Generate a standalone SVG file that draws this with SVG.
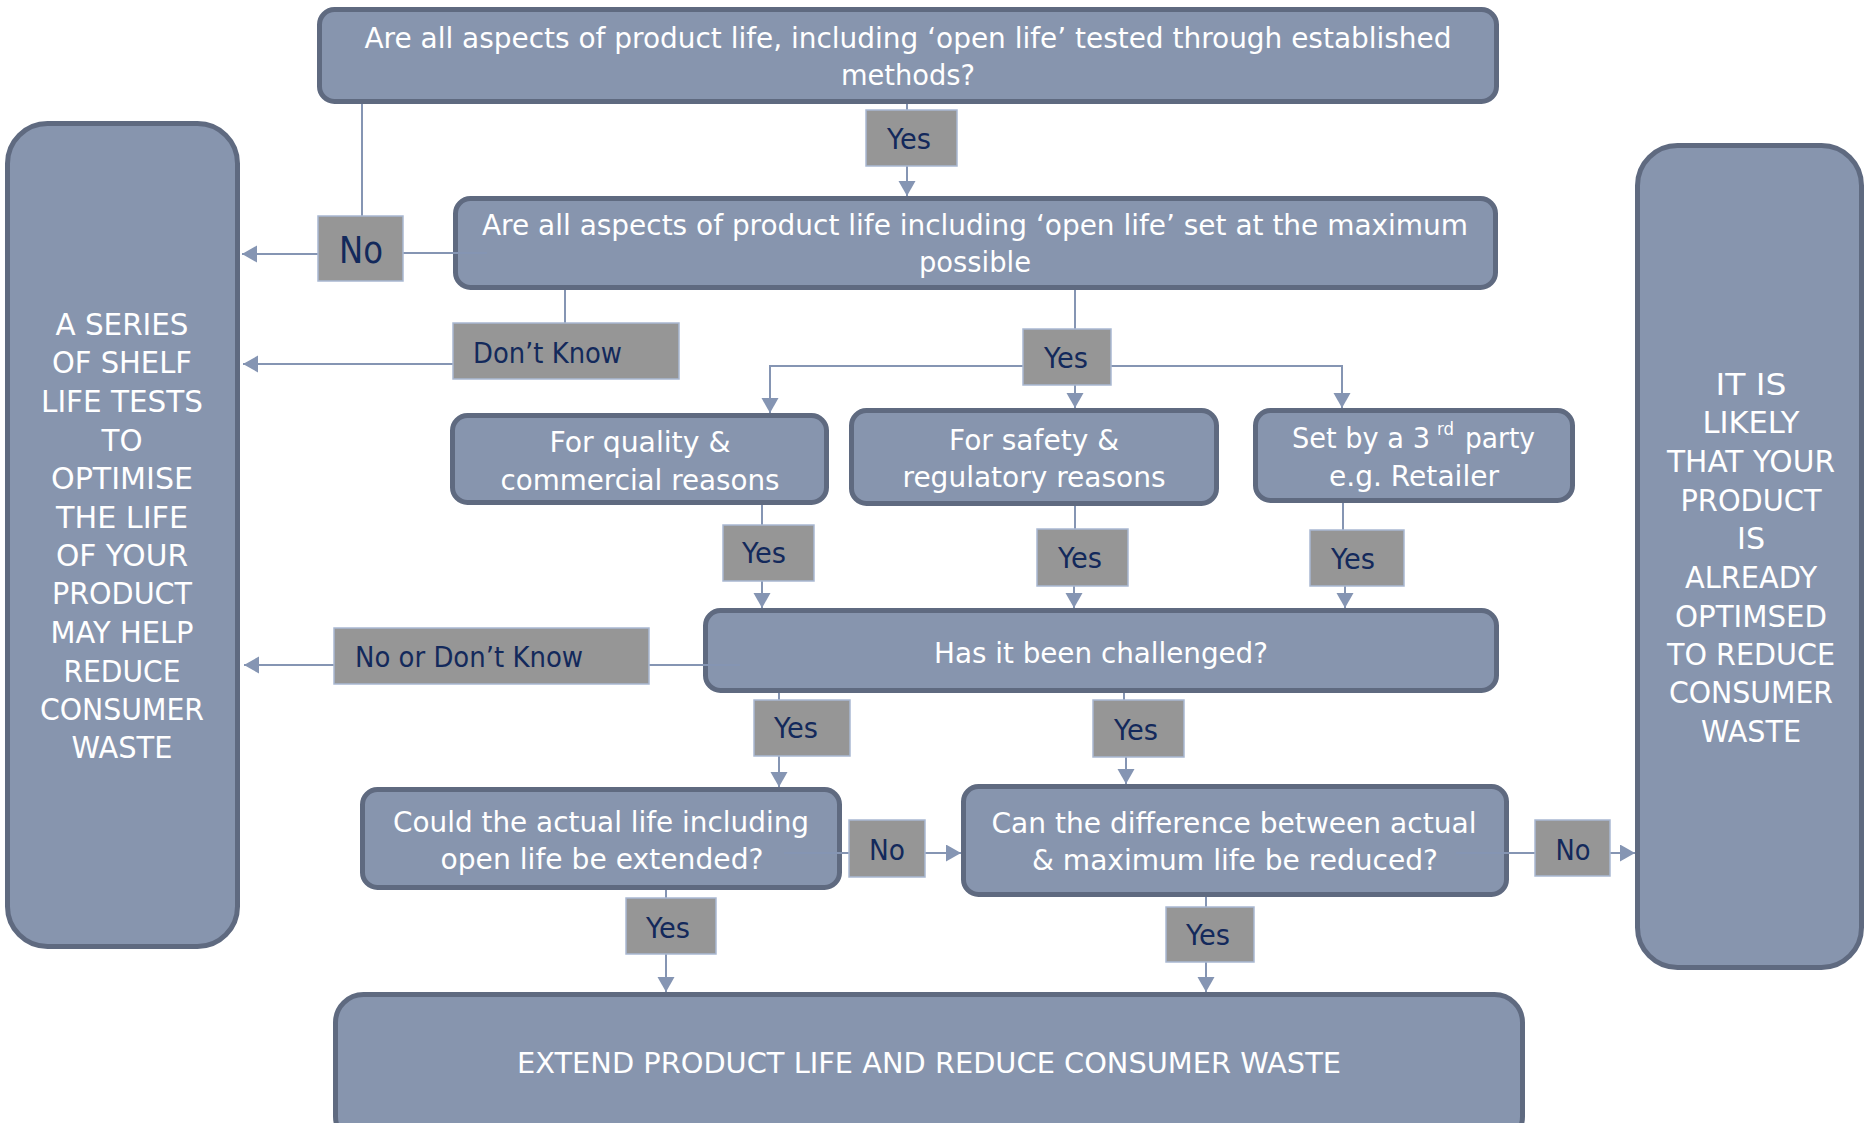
<svg xmlns="http://www.w3.org/2000/svg" width="1864" height="1123" viewBox="0 0 1864 1123">
<style>
.box{fill:#8795AE;stroke:#5F6A80;stroke-width:5}
.lbl{fill:#969696;stroke:#A9B8D2;stroke-width:1.5}
.bt{font-family:"DejaVu Sans",sans-serif;font-size:29px;fill:#FFFFFF;text-anchor:middle}
.btl{font-family:"DejaVu Sans",sans-serif;font-size:29px;fill:#FFFFFF}
.sup{font-family:"DejaVu Sans",sans-serif;font-size:17px;fill:#FFFFFF}
.st{font-family:"DejaVu Sans",sans-serif;font-size:31px;fill:#FFFFFF;text-anchor:middle}
.lt{font-family:"DejaVu Sans",sans-serif;font-size:29px;fill:#13295B;text-anchor:middle}
.ltb{font-family:"DejaVu Sans",sans-serif;font-size:38px;fill:#13295B;text-anchor:middle}
.ltl{font-family:"DejaVu Sans",sans-serif;font-size:29px;fill:#13295B}
.c{fill:none;stroke:#8595B3;stroke-width:2}
.a{marker-end:url(#ah)}
</style>
<defs>
<marker id="ah" markerWidth="16" markerHeight="18" refX="15" refY="8.5" orient="auto" markerUnits="userSpaceOnUse"><path d="M0,0 L15,8.5 L0,17 z" fill="#8595B3"/></marker>
</defs>
<rect width="1864" height="1123" fill="#FFFFFF"/>

<g id="q1"><rect class="box" x="319.5" y="9.5" width="1177" height="92" rx="15"/>
<text class="bt" x="908" y="48" textLength="1087" lengthAdjust="spacingAndGlyphs">Are all aspects of product life, including ‘open life’ tested through established</text>
<text class="bt" x="908" y="85" textLength="134" lengthAdjust="spacingAndGlyphs">methods?</text></g>

<g id="q2"><rect class="box" x="455.5" y="198.5" width="1040" height="89" rx="15"/>
<text class="bt" x="975" y="235" textLength="986" lengthAdjust="spacingAndGlyphs">Are all aspects of product life including ‘open life’ set at the maximum</text>
<text class="bt" x="975" y="272" textLength="112" lengthAdjust="spacingAndGlyphs">possible</text></g>

<g id="left"><rect class="box" x="7.5" y="123.5" width="230" height="823" rx="40"/>
<text class="st" x="122" y="335" textLength="133" lengthAdjust="spacingAndGlyphs">A SERIES</text>
<text class="st" x="122" y="373" textLength="140" lengthAdjust="spacingAndGlyphs">OF SHELF</text>
<text class="st" x="122" y="412" textLength="162" lengthAdjust="spacingAndGlyphs">LIFE TESTS</text>
<text class="st" x="122" y="451" textLength="41" lengthAdjust="spacingAndGlyphs">TO</text>
<text class="st" x="122" y="489" textLength="142" lengthAdjust="spacingAndGlyphs">OPTIMISE</text>
<text class="st" x="122" y="528" textLength="132" lengthAdjust="spacingAndGlyphs">THE LIFE</text>
<text class="st" x="122" y="566" textLength="132" lengthAdjust="spacingAndGlyphs">OF YOUR</text>
<text class="st" x="122" y="604" textLength="140" lengthAdjust="spacingAndGlyphs">PRODUCT</text>
<text class="st" x="122" y="643" textLength="143" lengthAdjust="spacingAndGlyphs">MAY HELP</text>
<text class="st" x="122" y="682" textLength="117" lengthAdjust="spacingAndGlyphs">REDUCE</text>
<text class="st" x="122" y="720" textLength="164" lengthAdjust="spacingAndGlyphs">CONSUMER</text>
<text class="st" x="122" y="758" textLength="101" lengthAdjust="spacingAndGlyphs">WASTE</text></g>

<g id="right"><rect class="box" x="1637.5" y="145.5" width="224" height="822" rx="40"/>
<text class="st" x="1751" y="395" textLength="71" lengthAdjust="spacingAndGlyphs">IT IS</text>
<text class="st" x="1751" y="433" textLength="97" lengthAdjust="spacingAndGlyphs">LIKELY</text>
<text class="st" x="1751" y="472" textLength="168" lengthAdjust="spacingAndGlyphs">THAT YOUR</text>
<text class="st" x="1751" y="511" textLength="141" lengthAdjust="spacingAndGlyphs">PRODUCT</text>
<text class="st" x="1751" y="549" textLength="28" lengthAdjust="spacingAndGlyphs">IS</text>
<text class="st" x="1751" y="588" textLength="132" lengthAdjust="spacingAndGlyphs">ALREADY</text>
<text class="st" x="1751" y="627" textLength="152" lengthAdjust="spacingAndGlyphs">OPTIMSED</text>
<text class="st" x="1751" y="665" textLength="168" lengthAdjust="spacingAndGlyphs">TO REDUCE</text>
<text class="st" x="1751" y="703" textLength="164" lengthAdjust="spacingAndGlyphs">CONSUMER</text>
<text class="st" x="1751" y="742" textLength="100" lengthAdjust="spacingAndGlyphs">WASTE</text></g>

<g id="quality"><rect class="box" x="452.5" y="415.5" width="374" height="87" rx="15"/>
<text class="bt" x="640" y="452" textLength="181" lengthAdjust="spacingAndGlyphs">For quality &amp;</text>
<text class="bt" x="640" y="490" textLength="279" lengthAdjust="spacingAndGlyphs">commercial reasons</text></g>

<g id="safety"><rect class="box" x="851.5" y="410.5" width="365" height="93" rx="15"/>
<text class="bt" x="1034" y="450" textLength="170" lengthAdjust="spacingAndGlyphs">For safety &amp;</text>
<text class="bt" x="1034" y="487" textLength="263" lengthAdjust="spacingAndGlyphs">regulatory reasons</text></g>

<g id="thirdparty"><rect class="box" x="1255.5" y="410.5" width="317" height="90" rx="15"/>
<text class="btl" x="1292" y="448" textLength="138" lengthAdjust="spacingAndGlyphs">Set by a 3</text>
<text class="sup" x="1437" y="435" textLength="17" lengthAdjust="spacingAndGlyphs">rd</text>
<text class="btl" x="1465" y="448" textLength="70" lengthAdjust="spacingAndGlyphs">party</text>
<text class="bt" x="1414" y="486" textLength="170" lengthAdjust="spacingAndGlyphs">e.g. Retailer</text></g>

<g id="challenged"><rect class="box" x="705.5" y="610.5" width="791" height="80" rx="15"/>
<text class="bt" x="1101" y="663" textLength="334" lengthAdjust="spacingAndGlyphs">Has it been challenged?</text></g>

<g id="could"><rect class="box" x="362.5" y="789.5" width="477" height="98" rx="15"/>
<text class="bt" x="601" y="832" textLength="416" lengthAdjust="spacingAndGlyphs">Could the actual life including</text>
<text class="bt" x="602" y="869" textLength="323" lengthAdjust="spacingAndGlyphs">open life be extended?</text></g>

<g id="can"><rect class="box" x="963.5" y="786.5" width="543" height="108" rx="15"/>
<text class="bt" x="1234" y="833" textLength="485" lengthAdjust="spacingAndGlyphs">Can the difference between actual</text>
<text class="bt" x="1235" y="870" textLength="406" lengthAdjust="spacingAndGlyphs">&amp; maximum life be reduced?</text></g>

<g id="extend"><rect class="box" x="335.5" y="994.5" width="1187" height="150" rx="28"/>
<text class="bt" x="929" y="1073" textLength="824" lengthAdjust="spacingAndGlyphs">EXTEND PRODUCT LIFE AND REDUCE CONSUMER WASTE</text></g>

<g id="connectors">
<path class="c" d="M907,104 V110"/>
<path class="c a" d="M907,166 V196"/>
<path class="c" d="M362,104 V216"/>
<path class="c" d="M487,253 H403"/>
<path class="c a" d="M318,254 H242"/>
<path class="c" d="M565,290 V323"/>
<path class="c a" d="M453,364 H243"/>
<path class="c" d="M1075,290 V329"/>
<path class="c a" d="M1023,366 H770 V413"/>
<path class="c a" d="M1075,385 V408"/>
<path class="c a" d="M1111,366 H1342 V408"/>
<path class="c" d="M762,505 V525"/>
<path class="c a" d="M762,581 V608"/>
<path class="c" d="M1075,506 V529"/>
<path class="c a" d="M1074,586 V608"/>
<path class="c" d="M1343,503 V530"/>
<path class="c a" d="M1345,586 V608"/>
<path class="c" d="M740,665 H649"/>
<path class="c a" d="M334,665 H244"/>
<path class="c" d="M779,693 V700"/>
<path class="c a" d="M779,756 V787"/>
<path class="c" d="M1124,693 V700"/>
<path class="c a" d="M1126,757 V784"/>
<path class="c" d="M784,853 H849"/>
<path class="c a" d="M925,853 H961"/>
<path class="c" d="M1456,853 H1535"/>
<path class="c a" d="M1610,853 H1635"/>
<path class="c" d="M666,890 V898"/>
<path class="c a" d="M666,954 V992"/>
<path class="c" d="M1206,897 V907"/>
<path class="c a" d="M1206,962 V992"/>
</g>

<g id="lbl-yes1"><rect class="lbl" x="866" y="110" width="91" height="56"/><text class="lt" x="909" y="149" textLength="44" lengthAdjust="spacingAndGlyphs">Yes</text></g>
<g id="lbl-no1"><rect class="lbl" x="318" y="216" width="85" height="65"/><text class="ltb" x="361" y="263" textLength="44" lengthAdjust="spacingAndGlyphs">No</text></g>
<g id="lbl-dk"><rect class="lbl" x="453" y="323" width="226" height="56"/><text class="ltl" x="473" y="363" textLength="149" lengthAdjust="spacingAndGlyphs">Don’t Know</text></g>
<g id="lbl-yes2"><rect class="lbl" x="1023" y="329" width="88" height="56"/><text class="lt" x="1066" y="368" textLength="44" lengthAdjust="spacingAndGlyphs">Yes</text></g>
<g id="lbl-yesq"><rect class="lbl" x="723" y="525" width="91" height="56"/><text class="lt" x="764" y="563" textLength="44" lengthAdjust="spacingAndGlyphs">Yes</text></g>
<g id="lbl-yess"><rect class="lbl" x="1037" y="529" width="91" height="57"/><text class="lt" x="1080" y="568" textLength="44" lengthAdjust="spacingAndGlyphs">Yes</text></g>
<g id="lbl-yes3"><rect class="lbl" x="1310" y="530" width="94" height="56"/><text class="lt" x="1353" y="569" textLength="44" lengthAdjust="spacingAndGlyphs">Yes</text></g>
<g id="lbl-ndk"><rect class="lbl" x="334" y="628" width="315" height="56"/><text class="ltl" x="355" y="667" textLength="228" lengthAdjust="spacingAndGlyphs">No or Don’t Know</text></g>
<g id="lbl-yesl"><rect class="lbl" x="754" y="700" width="96" height="56"/><text class="lt" x="796" y="738" textLength="44" lengthAdjust="spacingAndGlyphs">Yes</text></g>
<g id="lbl-yesr"><rect class="lbl" x="1093" y="700" width="91" height="57"/><text class="lt" x="1136" y="740" textLength="44" lengthAdjust="spacingAndGlyphs">Yes</text></g>
<g id="lbl-nom"><rect class="lbl" x="849" y="820" width="76" height="57"/><text class="lt" x="887" y="860" textLength="36" lengthAdjust="spacingAndGlyphs">No</text></g>
<g id="lbl-nor"><rect class="lbl" x="1535" y="820" width="75" height="56"/><text class="lt" x="1573" y="860" textLength="35" lengthAdjust="spacingAndGlyphs">No</text></g>
<g id="lbl-yesbl"><rect class="lbl" x="626" y="898" width="90" height="56"/><text class="lt" x="668" y="938" textLength="44" lengthAdjust="spacingAndGlyphs">Yes</text></g>
<g id="lbl-yesbr"><rect class="lbl" x="1166" y="907" width="88" height="55"/><text class="lt" x="1208" y="945" textLength="44" lengthAdjust="spacingAndGlyphs">Yes</text></g>
</svg>
